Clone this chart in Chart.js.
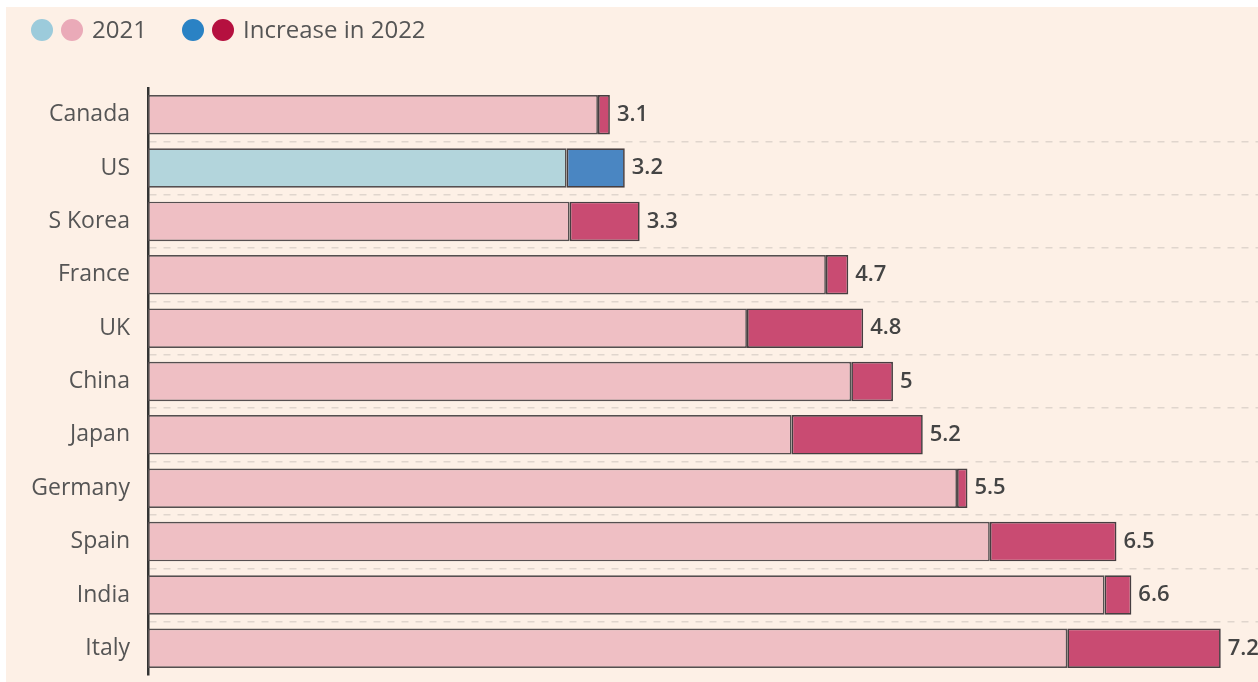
<!DOCTYPE html>
<html>
<head>
<meta charset="utf-8">
<script src="https://cdn.jsdelivr.net/npm/chart.js@4"></script>
<style>
	html, body { margin: 0; padding: 0; background: #ffffff; overflow: hidden; }
	#graph_prices { position: absolute; left: 6px; top: 7px; background: #fdf0e6; }
</style>
</head>
<body>
<canvas id="graph_prices" width="1252" height="675"></canvas>
<script>
var countries = ["Canada", "US", "S Korea", "France", "UK", "China", "Japan", "Germany", "Spain", "India", "Italy"];
var level2021 = [3.02, 2.81, 2.83, 4.55, 4.02, 4.72, 4.32, 5.43, 5.65, 6.42, 6.17];
var level2022 = [3.1, 3.2, 3.3, 4.7, 4.8, 5, 5.2, 5.5, 6.5, 6.6, 7.2];
var valueLabels = ["3.1", "3.2", "3.3", "4.7", "4.8", "5", "5.2", "5.5", "6.5", "6.6", "7.2"];
var legendLabels = ["2021", "Increase in 2022"];

var increase2022 = level2022.map(function(v, i){ return +(v - level2021[i]).toFixed(2); });

var pinkLight = '#efbfc4';
var blueLight = '#b3d5dc';
var pinkDark = '#c94b72';
var blueDark = '#4a86c2';

//draw the two-dot legend and the value after each bar
var extrasPlugin = {
	id: 'extras',
	afterDraw: function(chart){
		var ctx = chart.ctx;
		ctx.save();
		// legend
		var y = 23;
		var dots = [['#9ccbdb', '#eaaab8'], ['#2a82c4', '#b5103f']];
		var x = 36;
		ctx.font = '24px "Open Sans"';
		ctx.textBaseline = 'middle';
		ctx.textAlign = 'left';
		for (var k = 0; k < 2; k++) {
			for (var d = 0; d < 2; d++) {
				ctx.beginPath();
				ctx.fillStyle = dots[k][d];
				ctx.arc(x + d * 30, y, 11, 0, Math.PI * 2);
				ctx.fill();
			}
			ctx.fillStyle = '#555';
			ctx.fillText(legendLabels[k], x + 50, y + 1);
			x = 187;
		}
		// values
		var meta = chart.getDatasetMeta(1);
		ctx.font = '600 22px "Open Sans"';
		ctx.fillStyle = '#444';
		meta.data.forEach(function(bar, i){
			ctx.fillText(valueLabels[i], bar.x + 7, bar.y);
		});
		ctx.restore();
	}
};

var graph_prices_config = {
	type: 'bar',
	data: {
		labels: countries,
		datasets: [{
			label: legendLabels[0],
			data: level2021,
			backgroundColor: countries.map(function(c){ return c == 'US' ? blueLight : pinkLight; }),
			borderColor: '#554f50',
			borderWidth: 1.7,
			borderSkipped: false
		},{
			label: legendLabels[1],
			data: increase2022,
			backgroundColor: countries.map(function(c){ return c == 'US' ? blueDark : pinkDark; }),
			borderColor: '#463e41',
			borderWidth: 1.7,
			borderSkipped: false
		}]
	},
	options: {
		indexAxis: 'y',
		animation: false,
		responsive: false,
		barPercentage: 0.74,
		categoryPercentage: 1,
		layout: {
			padding: { top: 81, bottom: 7, left: 0, right: 0 }
		},
		scales: {
			x: {
				display: false,
				stacked: true,
				min: 0,
				max: 7.45
			},
			y: {
				stacked: true,
				afterFit: function(scale){
					scale.width = 142;
					//labels sit inside their bands, so no extra room above/below
					scale.paddingTop = 0;
					scale.paddingBottom = 0;
				},
				ticks: {
					font: { family: '"Open Sans"', size: 23 },
					color: '#555',
					padding: 18
				},
				grid: {
					offset: true,
					drawTicks: false,
					lineWidth: 1.5,
					color: function(context){
						//no dashed line above the first or below the last bar
						if (context.type !== 'tick' || context.index === 0) {
							return 'rgba(0,0,0,0)';
						}
						return '#e0d5cd';
					}
				},
				border: {
					display: true,
					color: '#333',
					width: 2.5,
					dash: [7, 7]
				}
			}
		},
		plugins: {
			legend: { display: false },
			tooltip: { enabled: false }
		}
	},
	plugins: [extrasPlugin]
};

document.addEventListener("DOMContentLoaded", function(){
	new Chart(document.getElementById("graph_prices").getContext('2d'), graph_prices_config);
});
</script>
</body>
</html>
